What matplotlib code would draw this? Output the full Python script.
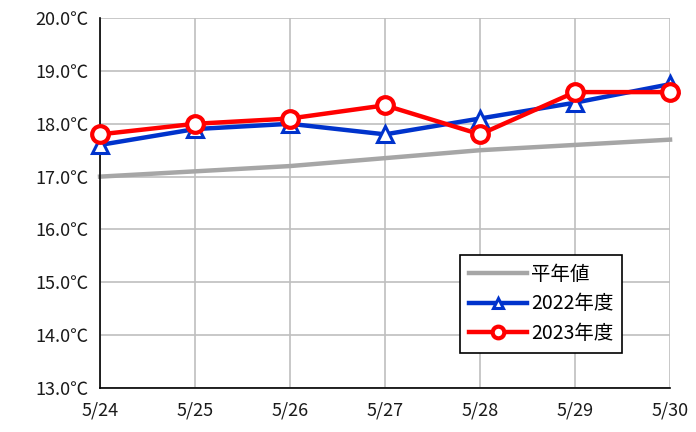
import matplotlib
matplotlib.use("Agg")
import matplotlib.pyplot as plt

plt.rcParams['font.family'] = ['Noto Sans CJK JP', 'DejaVu Sans']

# データ
dates = ["5/24", "5/25", "5/26", "5/27", "5/28", "5/29", "5/30"]
heinen = [17.0, 17.1, 17.2, 17.35, 17.5, 17.6, 17.7]
nendo_2022 = [17.6, 17.9, 18.0, 17.8, 18.1, 18.4, 18.75]
nendo_2023 = [17.8, 18.0, 18.1, 18.35, 17.8, 18.6, 18.6]
yticks = [13.0, 14.0, 15.0, 16.0, 17.0, 18.0, 19.0, 20.0]

fig = plt.figure(figsize=(6.96, 4.32), dpi=100)
ax = fig.add_axes([0.1437, 0.102, 0.819, 0.856])

x = list(range(len(dates)))
ax.plot(x, heinen, color='#a6a6a6', lw=3.2, label='平年値', zorder=2, clip_on=False)
ax.plot(x, nendo_2022, color='#0033cc', lw=3.2, marker='^', ms=11, mfc='white',
        mec='#0033cc', mew=2.2, label='2022年度', zorder=3, clip_on=False)
ax.plot(x, nendo_2023, color='#ff0000', lw=3.2, marker='o', ms=12, mfc='white',
        mec='#ff0000', mew=3, label='2023年度', zorder=4, clip_on=False)

ax.set_xlim(0, len(dates) - 1)
ax.set_ylim(13, 20)
ax.set_xticks(x)
ax.set_xticklabels(dates)
ax.set_yticks(yticks)
ax.set_yticklabels([f"{v:.1f}℃" for v in yticks])
ax.tick_params(length=0, labelsize=13, colors='#1a1a1a')
ax.tick_params(axis='x', pad=10)
ax.tick_params(axis='y', pad=8)

ax.grid(True, color='#bfbfbf', lw=1.2)
ax.set_axisbelow(True)
for s in ['top', 'right']:
    ax.spines[s].set_visible(False)
for s in ['left', 'bottom']:
    ax.spines[s].set_color('black')
    ax.spines[s].set_linewidth(1.2)

leg = ax.legend(loc='upper left', bbox_to_anchor=(0.632, 0.36), borderaxespad=0,
                fontsize=14, frameon=True, fancybox=False, edgecolor='black',
                framealpha=1, markerscale=0.7, handlelength=3.0, handletextpad=0.2,
                borderpad=0.45, labelspacing=0.45)
leg.get_frame().set_linewidth(1.2)

fig.savefig("out.png", dpi=100)
